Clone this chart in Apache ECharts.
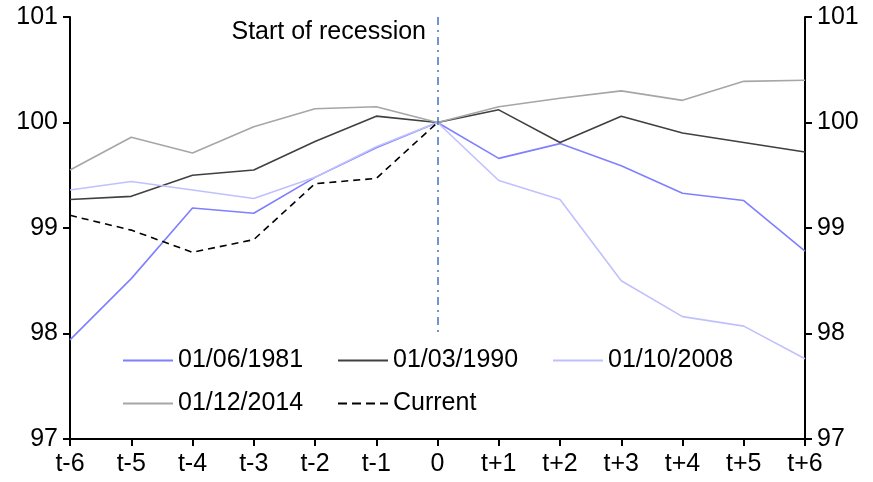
<!DOCTYPE html>
<html><head><meta charset="utf-8">
<script src="https://cdn.jsdelivr.net/npm/echarts@6/dist/echarts.min.js"></script>
<style>html,body{margin:0;padding:0;background:#fff}#c{width:873px;height:482px}</style>
</head><body><div id="c"></div>
<script>
const categories = ['t-6','t-5','t-4','t-3','t-2','t-1','0','t+1','t+2','t+3','t+4','t+5','t+6'];
const s1981 = [97.94, 98.52, 99.19, 99.14, 99.48, 99.76, 100, 99.66, 99.80, 99.59, 99.33, 99.26, 98.78];
const s1990 = [99.27, 99.30, 99.50, 99.55, 99.82, 100.06, 100, 100.12, 99.81, 100.06, 99.90, 99.81, 99.72];
const s2008 = [99.36, 99.44, 99.36, 99.28, 99.48, 99.77, 100, 99.45, 99.27, 98.50, 98.16, 98.07, 97.76];
const s2014 = [99.55, 99.86, 99.71, 99.96, 100.13, 100.15, 100, 100.15, 100.23, 100.30, 100.21, 100.39, 100.40];
const sCurrent = [99.12, 98.98, 98.77, 98.89, 99.42, 99.47, 100, null, null, null, null, null, null];
const names = ['01/06/1981','01/03/1990','01/10/2008','01/12/2014','Current'];
const recessionLabel = 'Start of recession';

const FONT = 'Liberation Sans, Arial, sans-serif';
const FS = 25;
const SOLID_ICON = 'path://M0,0h50v2h-50z';
const DASH_ICON = 'path://M0,0h9v2h-9z M14,0h9v2h-9z M28,0h9v2h-9z M42,0h8v2h-8z';
const chart = echarts.init(document.getElementById('c'));
function legendAt(name, left, top, icon){
  return {data:[{name:name, icon:icon||SOLID_ICON}], left:left, top:top, itemWidth:50, itemHeight:2, itemGap:0, padding:0,
    textStyle:{fontFamily:FONT, fontSize:FS, color:'#000'}};
}
const yAxisCommon = {type:'value', min:97, max:101, interval:1,
  axisLine:{show:true, lineStyle:{color:'#000', width:2}},
  axisTick:{show:true, length:7, lineStyle:{color:'#000', width:2}},
  splitLine:{show:false},
  axisLabel:{fontFamily:FONT, fontSize:FS, color:'#000', margin:12}};
function lineSeries(name, data, color, type){
  return {name:name, type:'line', data:data, symbol:'none', showSymbol:false,
    lineStyle:{color:color, width:1.6, type:type||'solid'}, itemStyle:{color:color}, z:3};
}
const series = [
  lineSeries(names[0], s1981, '#7f7fff'),
  lineSeries(names[1], s1990, '#404040'),
  lineSeries(names[2], s2008, '#c0c0ff'),
  lineSeries(names[3], s2014, '#a6a6a6'),
  lineSeries(names[4], sCurrent, '#000000', [7,5])
];
series[0].markLine = {silent:true, symbol:'none', animation:false,
  lineStyle:{color:'#4472c4', width:1.5, type:[8,5,2,5]},
  label:{show:false},
  data:[[{coord:['0',101]},{coord:['0',98]}]]};
chart.setOption({
  animation:false,
  grid:{left:70, right:68, top:17, bottom:43},
  legend:[legendAt(names[0],123,348), legendAt(names[1],338,348), legendAt(names[2],553,348),
          legendAt(names[3],123,391), legendAt(names[4],338,391, DASH_ICON)],
  xAxis:{type:'category', data:categories, boundaryGap:false,
    axisLine:{lineStyle:{color:'#000', width:2}},
    axisTick:{show:true, length:7, alignWithLabel:true, lineStyle:{color:'#000', width:2}},
    axisLabel:{fontFamily:FONT, fontSize:FS, color:'#000', margin:13, interval:0}},
  yAxis:[Object.assign({position:'left'}, yAxisCommon), Object.assign({position:'right'}, yAxisCommon)],
  graphic:[{type:'text', right:447, top:20, style:{text:recessionLabel, font:FS+'px '+FONT, fill:'#000'}}],
  series:series
});
</script></body></html>
